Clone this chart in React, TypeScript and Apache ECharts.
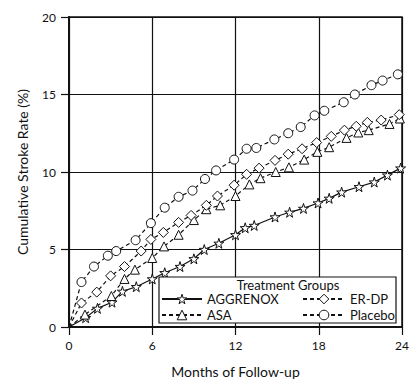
import React, { useEffect, useRef } from "react";
import * as echarts from "echarts";

const xTicks = [0, 6, 12, 18, 24];
const yTicks = [0, 5, 10, 15, 20];

const aggrenoxMonths = [0, 1.2, 2.05, 3.1, 3.85, 4.85, 6.0, 6.9, 8.0, 9.0, 9.75, 10.8, 12.0, 12.7, 13.35, 14.85, 15.9, 16.9, 17.95, 18.75, 19.65, 20.9, 22.0, 22.95, 23.9];
const aggrenoxRates = [0, 0.6, 1.2, 1.6, 2.3, 2.6, 3.1, 3.5, 3.9, 4.4, 5.0, 5.4, 5.95, 6.4, 6.55, 7.1, 7.4, 7.65, 8.0, 8.3, 8.7, 9.05, 9.35, 9.8, 10.25];

const asaMonths = [0, 1.15, 3.05, 4.0, 4.75, 6.0, 6.85, 7.9, 9.0, 9.9, 10.9, 12.0, 13.0, 13.8, 14.9, 15.85, 16.95, 17.9, 18.75, 20.0, 20.85, 21.6, 23.1, 23.85];
const asaRates = [0, 0.8, 2.0, 3.1, 3.7, 4.45, 5.2, 5.95, 6.9, 7.6, 7.85, 8.45, 9.2, 9.6, 10.0, 10.3, 10.8, 11.3, 11.6, 12.2, 12.55, 12.7, 13.1, 13.45];

const erdpMonths = [0, 0.9, 2.0, 3.0, 4.0, 5.2, 5.9, 6.8, 7.9, 8.8, 9.9, 10.7, 11.9, 12.8, 13.7, 14.85, 15.8, 16.8, 17.85, 18.9, 19.85, 20.7, 21.5, 22.5, 23.8];
const erdpRates = [0, 1.55, 2.25, 3.3, 3.9, 4.9, 5.65, 6.1, 6.75, 7.2, 7.85, 8.45, 9.15, 9.85, 10.25, 10.75, 11.15, 11.5, 11.9, 12.3, 12.7, 12.95, 13.2, 13.35, 13.7];

const placeboMonths = [0, 0.9, 1.8, 2.8, 3.4, 4.8, 5.9, 6.9, 7.9, 8.9, 9.8, 10.6, 11.9, 12.8, 13.5, 14.8, 15.8, 16.7, 17.7, 18.4, 19.8, 20.6, 21.8, 22.6, 23.7];
const placeboRates = [0, 2.9, 3.9, 4.6, 4.9, 5.6, 6.7, 7.7, 8.4, 8.8, 9.55, 10.1, 10.8, 11.5, 11.55, 12.1, 12.5, 12.9, 13.65, 13.95, 14.5, 15.0, 15.6, 15.9, 16.3];

const STAR = "path://M50,0 L61,35 L98,35 L68,57 L79,91 L50,70 L21,91 L32,57 L2,35 L39,35 Z";
const FONT = "Lato";

function build(months: number[], rates: number[]) {
  return months.map((m, i) =>
    i === 0 && m === 0 && rates[i] === 0
      ? { value: [m, rates[i]], symbol: "none" }
      : { value: [m, rates[i]] }
  );
}

function mkSeries(name: string, months: number[], rates: number[], symbol: string, size: number, dashed: boolean) {
  return {
    name,
    type: "line",
    data: build(months, rates),
    symbol,
    symbolSize: size,
    showAllSymbol: true,
    lineStyle: { color: "#111", width: 1.2, type: dashed ? [4, 3] : "solid" },
    itemStyle: { color: "#fff", borderColor: "#111", borderWidth: 1 },
    emphasis: { disabled: true },
    z: 2,
  };
}

export default function App() {
  const ref = useRef<HTMLDivElement>(null);
  useEffect(() => {
    if (!ref.current) return;
    const chart = echarts.init(ref.current, null, { renderer: "svg" });
    const legendText = { fontFamily: FONT, fontSize: 13, color: "#111", lineHeight: 14 };
    const legendItem = { color: "#fff", borderColor: "#111", borderWidth: 1 };
    chart.setOption({
      animation: false,
      backgroundColor: "#fff",
      grid: { left: 69, right: 11, top: 17, bottom: 61, show: true, borderColor: "#111", borderWidth: 1.5, backgroundColor: "transparent" },
      xAxis: {
        type: "value",
        min: 0,
        max: 24,
        interval: 6,
        name: "Months of Follow-up",
        nameLocation: "middle",
        nameGap: 37,
        nameTextStyle: { fontFamily: FONT, fontSize: 14, color: "#111" },
        axisLine: { show: true, lineStyle: { color: "#111", width: 2 } },
        axisTick: { show: true, length: 8, inside: false, lineStyle: { color: "#111", width: 1.2 } },
        axisLabel: { margin: 12, fontFamily: FONT, fontSize: 12, color: "#111", formatter: (v: number) => (xTicks.includes(v) ? String(v) : "") },
        splitLine: { show: true, lineStyle: { color: "#111", width: 1.2 } },
      },
      yAxis: {
        type: "value",
        min: 0,
        max: 20,
        interval: 5,
        name: "Cumulative Stroke Rate (%)",
        nameLocation: "middle",
        nameGap: 40,
        nameTextStyle: { fontFamily: FONT, fontSize: 14, color: "#111" },
        axisLine: { show: true, lineStyle: { color: "#111", width: 2 } },
        axisTick: { show: true, length: 8, lineStyle: { color: "#111", width: 1.2 } },
        axisLabel: { margin: 13, fontFamily: FONT, fontSize: 12, color: "#111", formatter: (v: number) => (yTicks.includes(v) ? String(v) : "") },
        splitLine: { show: true, lineStyle: { color: "#111", width: 1.2 } },
      },
      legend: [
        {
          data: ["AGGRENOX", "ASA"],
          orient: "vertical",
          left: 161,
          top: 292,
          itemWidth: 40,
          itemHeight: 12,
          itemGap: 2,
          padding: 0,
          textStyle: legendText,
          itemStyle: legendItem,
          selectedMode: false,
          z: 10,
        },
        {
          data: ["ER-DP", "Placebo"],
          orient: "vertical",
          left: 302,
          top: 292,
          itemWidth: 42,
          itemHeight: 12,
          itemGap: 2,
          padding: 0,
          textStyle: legendText,
          itemStyle: legendItem,
          selectedMode: false,
          z: 10,
        },
      ],
      graphic: [
        {
          type: "rect",
          z: 5,
          shape: { x: 159, y: 277, width: 237, height: 46 },
          style: { fill: "#fff", stroke: "#111", lineWidth: 1.2 },
        },
        {
          type: "text",
          z: 6,
          x: 288,
          y: 285,
          style: { text: "Treatment Groups", fontFamily: FONT, fontSize: 13, fill: "#111", align: "center", verticalAlign: "middle" },
        },
      ],
      series: [
        mkSeries("AGGRENOX", aggrenoxMonths, aggrenoxRates, STAR, 10, false),
        mkSeries("ASA", asaMonths, asaRates, "triangle", 9, true),
        mkSeries("ER-DP", erdpMonths, erdpRates, "diamond", 10, true),
        mkSeries("Placebo", placeboMonths, placeboRates, "circle", 9, true),
      ],
    });
    return () => chart.dispose();
  }, []);
  return <div ref={ref} style={{ width: 413, height: 388, position: "absolute", left: 0, top: 0 }} />;
}
